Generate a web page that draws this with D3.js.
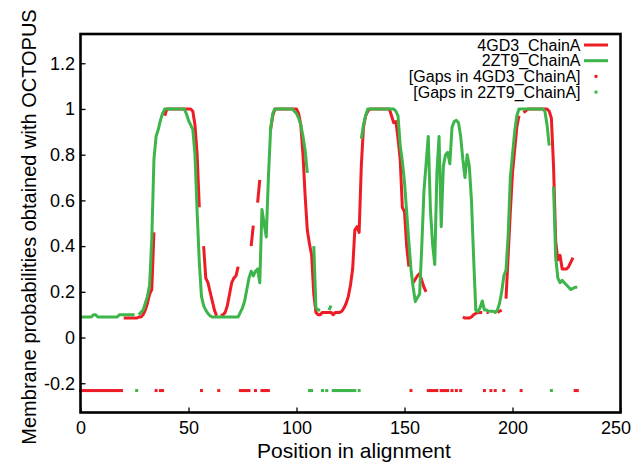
<!DOCTYPE html>
<html><head><meta charset="utf-8">
<script src="https://cdn.jsdelivr.net/npm/d3@7/dist/d3.min.js"></script>
<style>body{margin:0;background:#fff}svg{display:block}text{font-family:"Liberation Sans",Arial,sans-serif;fill:#000}</style>
</head><body><svg id="c" width="634" height="463"></svg>
<script>
// ---- data (position 0..230 in alignment; null = gap in that chain) ----
const N = null;
const chain4GD3 = [
  N,N,N,N,N,N,N,N,N,N,                                   // 0-9
  N,N,N,N,N,N,N,N,N,N,                                   // 10-19
  0.085,0.085,0.085,0.085,0.085,0.085,0.085,0.09,0.09,0.10, // 20-29
  0.12,0.15,0.19,0.21,0.46,N,0.70,N,N,0.97,              // 30-39
  1,1,1,1,1,1,1,1,1,1,                                   // 40-49
  1,1,0.99,0.93,0.80,0.57,N,0.40,0.26,0.24,              // 50-59
  0.20,0.16,0.12,0.095,N,0.095,0.10,0.11,0.14,0.19,      // 60-69
  0.24,0.26,0.27,0.31,N,N,N,N,N,0.40,                    // 70-79
  0.49,N,0.59,0.69,N,N,N,N,0.91,0.97,                    // 80-89
  1,1,1,1,1,1,1,1,1,1,                                   // 90-99
  1,0.98,0.93,0.80,0.62,0.47,0.41,0.36,0.19,0.11,        // 100-109
  0.10,0.10,0.11,0.11,0.11,0.11,0.11,0.10,0.11,0.11,     // 110-119
  0.11,0.115,0.13,0.15,0.18,0.23,0.30,0.47,0.485,0.46,   // 120-129
  0.75,0.92,0.97,0.99,1,1,1,1,1,1,                       // 130-139
  1,1,1,1,0.97,0.94,0.945,0.87,0.78,0.57,                // 140-149
  0.55,0.40,0.31,N,0.24,0.255,0.27,0.28,0.25,0.22,       // 150-159
  0.20,N,N,N,N,N,0.50,N,N,N,                             // 160-169
  N,0.80,N,0.90,N,0.93,N,0.09,0.085,0.085,               // 170-179
  0.085,0.09,0.10,0.105,0.11,0.11,0.11,N,0.11,0.11,      // 180-189
  N,0.11,N,0.11,0.115,0.12,N,0.17,0.36,0.55,             // 190-199
  0.72,0.82,0.92,0.97,N,0.985,0.99,1,1,1,                // 200-209
  1,1,1,1,1,1,1,0.99,0.96,0.75,                          // 210-219
  0.42,0.34,0.36,0.30,0.30,0.30,0.31,0.33,0.35,N,        // 220-229
  N                                                      // 230
];
const chain2ZT9 = [
  0.09,0.09,0.09,0.09,0.09,0.09,0.10,0.10,0.09,0.09,     // 0-9
  0.09,0.09,0.09,0.09,0.09,0.09,0.09,0.09,0.10,0.10,     // 10-19
  0.10,0.10,0.10,0.10,0.10,0.10,N,0.10,0.11,0.12,        // 20-29
  0.15,0.18,0.23,0.43,0.78,0.88,0.91,0.95,0.98,1,        // 30-39
  1,1,1,1,1,1,1,1,1,0.98,                                // 40-49
  0.95,0.93,0.91,0.80,0.55,0.33,0.18,0.14,0.12,0.105,    // 50-59
  0.095,0.09,0.09,0.09,0.09,0.09,0.09,0.09,0.09,0.09,    // 60-69
  0.09,0.09,0.09,0.09,0.11,0.13,0.16,0.21,0.26,0.29,     // 70-79
  0.27,0.29,0.30,0.24,0.56,0.50,0.44,0.70,0.91,0.98,     // 80-89
  1,1,1,1,1,1,1,1,1,0.99,                                // 90-99
  0.98,0.96,0.93,0.88,0.82,0.72,N,N,0.40,0.13,           // 100-109
  0.12,0.12,N,0.12,N,0.12,0.14,N,N,N,                    // 110-119
  N,N,N,N,N,N,N,N,0.12,N,                                // 120-129
  0.87,0.93,0.97,1,1,1,1,1,1,1,                          // 130-139
  1,1,1,1,1,1,0.99,0.97,0.84,0.77,                       // 140-149
  0.68,0.55,0.42,0.30,0.22,0.157,0.175,0.19,0.40,0.64,   // 150-159
  0.76,0.88,0.56,0.41,0.32,0.72,0.88,0.485,0.75,0.80,    // 160-169
  0.81,0.76,0.92,0.945,0.95,0.94,0.88,0.78,0.70,0.80,    // 170-179
  0.75,0.60,0.35,0.12,0.113,0.13,0.16,0.12,0.12,0.115,   // 180-189
  0.115,0.115,0.11,0.12,0.15,0.20,0.27,0.295,0.45,0.70,  // 190-199
  0.80,0.90,0.97,1,1,1,1,1,1,1,                          // 200-209
  1,1,1,1,1,0.99,0.93,0.84,N,0.66,                       // 210-219
  0.35,0.26,0.24,0.25,0.24,0.23,0.22,0.21,0.215,0.22,    // 220-229
  0.22                                                   // 230
];
const seriesNames = ["4GD3_ChainA", "2ZT9_ChainA"];
const gapNames = ["[Gaps in 4GD3_ChainA]", "[Gaps in 2ZT9_ChainA]"];
const seriesColors = ["#ee1c25", "#3db54a"];
const gapLevel = -0.232;
const xTicks = [0, 50, 100, 150, 200, 250];
const yTicks = [-0.2, 0, 0.2, 0.4, 0.6, 0.8, 1, 1.2];
const xTitle = "Position in alignment";
const yTitle = "Membrane probabilities obtained with OCTOPUS";

// ---- layout ----
const svg = d3.select("#c");
const L = 80.5, R = 620.5, T = 34, B = 412.5;
const x = d3.scaleLinear().domain([0, 250]).range([L, R]);
const y = d3.scaleLinear().domain([-0.328, 1.328]).range([B, T]);

const series = [chain4GD3, chain2ZT9].map((vals, i) => ({
  name: seriesNames[i], gapName: gapNames[i], color: seriesColors[i],
  pts: vals.map((v, k) => ({ pos: k, v }))
}));

// axes
const gx = svg.append("g").attr("transform", `translate(0,${B})`)
  .call(d3.axisBottom(x).tickValues(xTicks).tickSize(-5).tickPadding(9).tickFormat(d => String(d)));
const gy = svg.append("g").attr("transform", `translate(${L},0)`)
  .call(d3.axisLeft(y).tickValues(yTicks).tickSize(-5).tickPadding(5.5).tickFormat(d => String(d)));
[gx, gy].forEach(g => {
  g.select(".domain").remove();
  g.selectAll(".tick line").attr("stroke", "#000").attr("stroke-width", 1.3);
  g.selectAll(".tick text").attr("font-size", 18).attr("font-family", "Liberation Sans, Arial, sans-serif").attr("fill", "#000");
});
// keep the last x label inside the page
gx.selectAll(".tick text").filter(d => d === xTicks[xTicks.length - 1]).attr("dx", -5);

// lines (red below, green above)
const line = d3.line().defined(d => d.v !== null).x(d => x(d.pos)).y(d => y(d.v));
series.forEach(s => {
  svg.append("path").datum(s.pts).attr("d", line)
    .attr("fill", "none").attr("stroke", s.color).attr("stroke-width", 3)
    .attr("stroke-linejoin", "round").attr("stroke-linecap", "butt");
});

// gap markers
series.forEach(s => {
  svg.append("g").selectAll("rect").data(s.pts.filter(d => d.v === null)).join("rect")
    .attr("x", d => x(d.pos) - 1.5).attr("y", y(gapLevel) - 1.5)
    .attr("width", 3).attr("height", 3).attr("fill", s.color);
});

// frame
svg.append("rect").attr("x", L).attr("y", T).attr("width", R - L).attr("height", B - T)
  .attr("fill", "none").attr("stroke", "#000").attr("stroke-width", 2.6);

// titles
svg.append("text").attr("x", 354).attr("y", 458).attr("text-anchor", "middle")
  .attr("font-size", 21).text(xTitle);
svg.append("text").attr("transform", "translate(36,227) rotate(-90)").attr("text-anchor", "middle")
  .attr("font-size", 20).text(yTitle);

// legend
const lg = svg.append("g");
const rowY = i => 45 + i * 15.7;
series.forEach((s, i) => {
  lg.append("text").attr("x", 580.5).attr("y", rowY(i) + 5.7).attr("text-anchor", "end")
    .attr("font-size", 16).text(s.name);
  lg.append("line").attr("x1", 584).attr("x2", 608).attr("y1", rowY(i)).attr("y2", rowY(i))
    .attr("stroke", s.color).attr("stroke-width", 3);
});
series.forEach((s, i) => {
  const r = i + 2;
  lg.append("text").attr("x", 580.5).attr("y", rowY(r) + 5.7).attr("text-anchor", "end")
    .attr("font-size", 16).text(s.gapName);
  lg.append("rect").attr("x", 596 - 1.5).attr("y", rowY(r) - 1.5).attr("width", 3).attr("height", 3)
    .attr("fill", s.color);
});
</script></body></html>
